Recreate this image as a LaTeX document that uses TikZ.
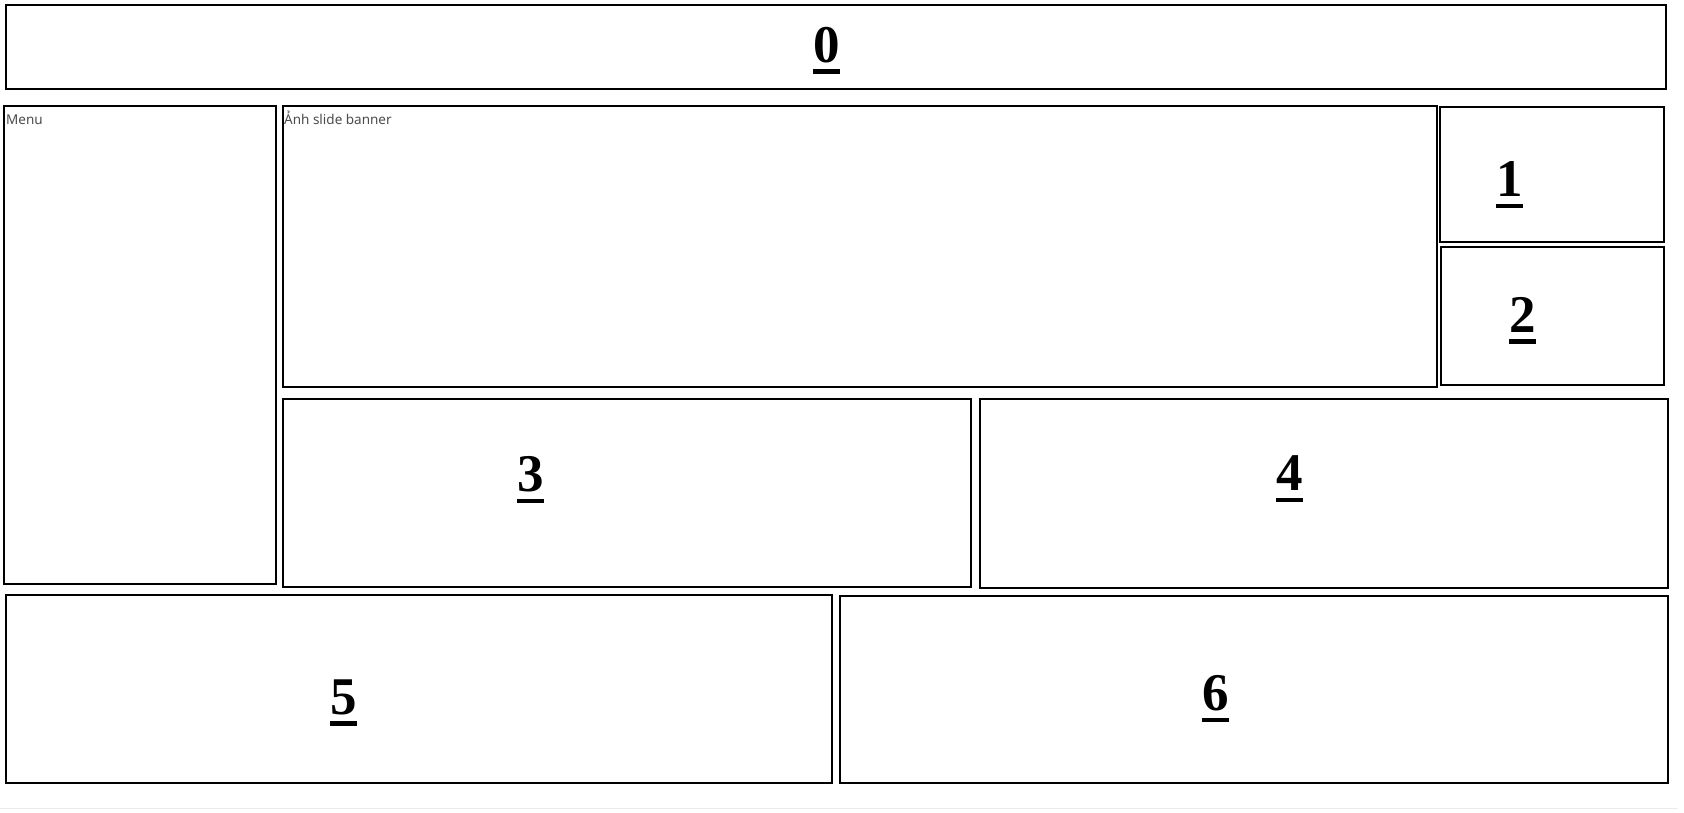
\documentclass[tikz,border=0pt]{standalone}
\usepackage{fontspec}
\setmainfont{Liberation Serif}
\newfontfamily\labelfont{Noto Sans}
\newcommand\ulnum[1]{\setbox0\hbox{#1}\rlap{\copy0}\rule[-11.5pt]{\wd0}{4.6pt}}
\begin{document}
\begin{tikzpicture}[x=1pt,y=-1pt,
  box/.style={draw=black, line width=1.1pt, inner sep=0pt, outer sep=0pt, anchor=north west},
  num/.style={anchor=base, inner sep=0pt, font=\fontsize{53}{60}\selectfont\bfseries},
  lbl/.style={anchor=base west, inner sep=0pt, text=black!70, font=\labelfont\fontsize{13.5}{15}\selectfont}]
\useasboundingbox[fill=white] (0,0) rectangle (1684,812);
\draw[black!8, line width=1pt] (0,808) -- (1678,808);
% boxes
\node[box, minimum width=1660pt, minimum height=84pt] (b0) at (6,5) {};
\node[box, minimum width=272pt, minimum height=478pt] (menu) at (4,106) {};
\node[box, minimum width=1154pt, minimum height=281pt] (banner) at (283,106) {};
\node[box, minimum width=224pt, minimum height=135pt] (b1) at (1440,107) {};
\node[box, minimum width=223pt, minimum height=138pt] (b2) at (1441,247) {};
\node[box, minimum width=688pt, minimum height=188pt] (b3) at (283,399) {};
\node[box, minimum width=688pt, minimum height=189pt] (b4) at (980,399) {};
\node[box, minimum width=826pt, minimum height=188pt] (b5) at (6,595) {};
\node[box, minimum width=828pt, minimum height=187pt] (b6) at (840,596) {};
% labels
\node[lbl] (tmenu) at (6,124) {Menu};
\node[lbl] (tbanner) at (284,124) {Ảnh slide banner};
% numbers
\node[num] (n0) at (826.7,62.3) {\ulnum{0}};
\node[num] (n1) at (1509.3,196.7) {\ulnum{1}};
\node[num] (n2) at (1522.3,332.3) {\ulnum{2}};
\node[num] (n3) at (530.3,491.7) {\ulnum{3}};
\node[num] (n4) at (1289.3,490.7) {\ulnum{4}};
\node[num] (n5) at (343.3,714) {\ulnum{5}};
\node[num] (n6) at (1215.3,710.7) {\ulnum{6}};
\end{tikzpicture}
\end{document}
